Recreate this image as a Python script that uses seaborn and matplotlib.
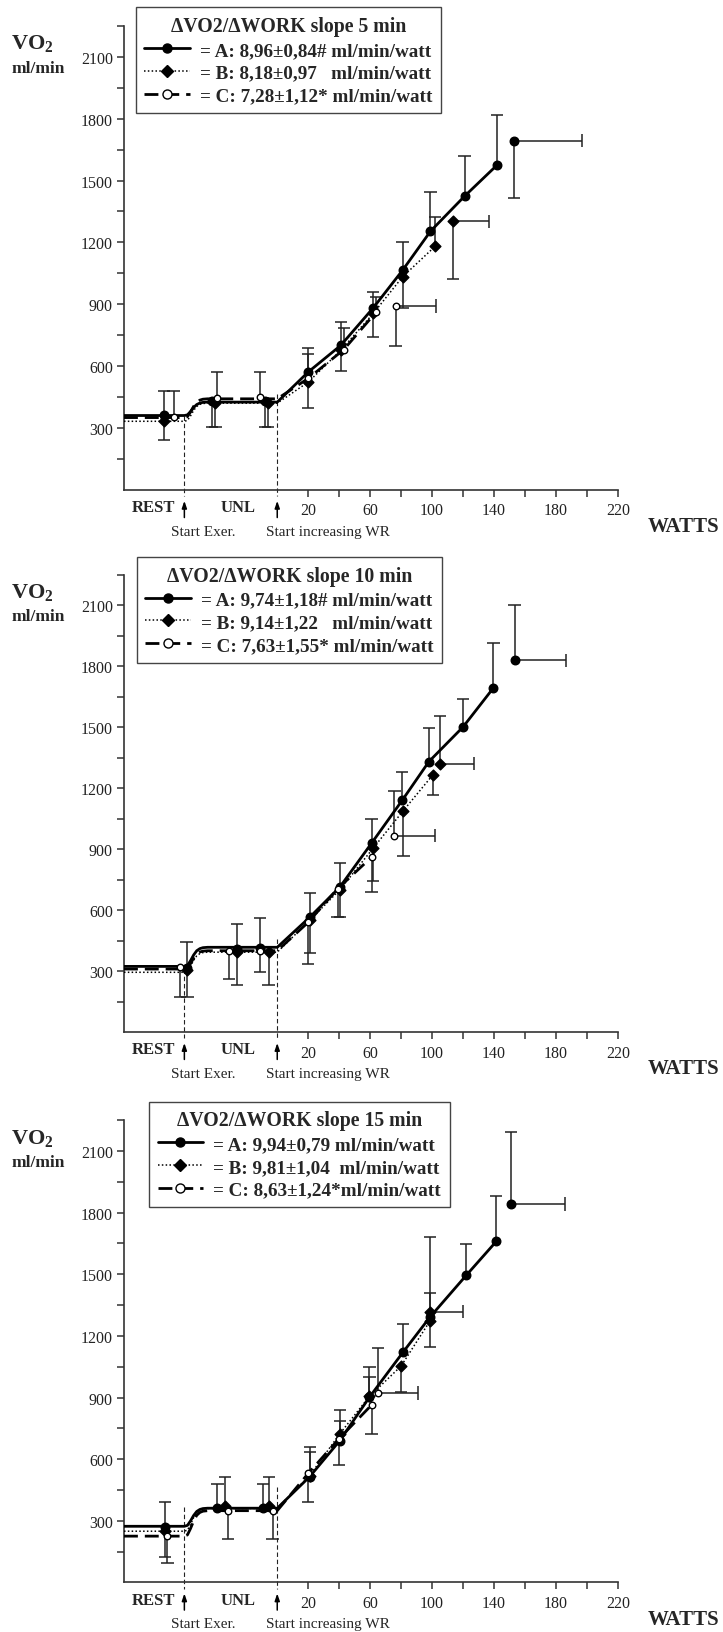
import numpy as np
import matplotlib
matplotlib.use("Agg")
import matplotlib.pyplot as plt
from matplotlib.lines import Line2D
import seaborn as sns

# rest -> unloaded transition shape (fraction of the jump reached at each watt position)
step_w = [-60, -58, -56, -54, -52, -50, -48, -45]
step_frac = [0.0, 0.05, 0.3, 0.6, 0.82, 0.93, 0.98, 1.0]

titles = ["ΔVO2/ΔWORK slope 5 min", "ΔVO2/ΔWORK slope 10 min", "ΔVO2/ΔWORK slope 15 min"]
labels5 = ["= A: 8,96±0,84# ml/min/watt", "= B: 8,18±0,97   ml/min/watt", "= C: 7,28±1,12* ml/min/watt"]
labels10 = ["= A: 9,74±1,18# ml/min/watt", "= B: 9,14±1,22   ml/min/watt", "= C: 7,63±1,55* ml/min/watt"]
labels15 = ["= A: 9,94±0,79 ml/min/watt", "= B: 9,81±1,04  ml/min/watt", "= C: 8,63±1,24*ml/min/watt"]

# err: one-sided SD bar (+ up, - down); level: [rest, unloaded]; peak: [W, VO2, W err, VO2 err]
# ---- 5 min
a5_w = [-73, -42, -8, 20, 41, 62, 81, 99, 121, 142]
a5_vo2 = [363, 428, 428, 571, 700, 882, 1065, 1254, 1424, 1575]
a5_err = [118, -125, -125, 116, 114, 78, 138, 188, 197, 243]
a5_level = [360, 425]
a5_peak = [153, 1693, 44, -280]

b5_w = [-73, -40, -6, 20, 41, 62, 81, 102]
b5_vo2 = [335, 420, 420, 522, 676, 855, 1033, 1181]
b5_err = [-93, -117, -117, -126, -102, -114, -150, 140]
b5_level = [332, 420]
b5_peak = [113.5, 1303, 23, -279]

c5_w = [-67, -39, -11, 20, 43, 64]
c5_vo2 = [352, 447, 449, 540, 680, 863]
c5_err = [129, 124, 122, 120, 105, 72]
c5_level = [350, 441]
c5_peak = [76.5, 891, 26, -196]

# ---- 10 min
a10_w = [-58.5, -26, -11, 21, 40.4, 61, 80.7, 98, 120, 139.6]
a10_vo2 = [314, 409, 412, 565, 713, 930, 1140, 1331, 1501, 1693]
a10_err = [128, 123, 151, 120, 120, 116, 142, 164, 139, 222]
a10_level = [323, 417]
a10_peak = [153.3, 1830, 33.5, 271]

b10_w = [-58, -26, -5.6, 21, 40.4, 62, 81.5, 100.6]
b10_vo2 = [305, 395, 396, 550, 700, 905, 1090, 1266]
b10_err = [-131, -162, -163, -159, -135, -160, -222, -102]
b10_level = [294, 393]
b10_peak = [105, 1320, 22, 233]

c10_w = [-63, -31, -11, 20, 39, 61]
c10_vo2 = [318, 400, 400, 540, 705, 861]
c10_err = [-144, -139, -106, -203, -140, -173]
c10_level = [310, 400]
c10_peak = [75.7, 967, 26, 221]

# ---- 15 min
a15_w = [-72.5, -38.6, -9.3, 21, 40.4, 59.5, 81.3, 98.6, 122, 141.5]
a15_vo2 = [268, 361, 361, 515, 690, 901, 1121, 1291, 1494, 1660]
a15_err = [122, 118, 118, 143, 95, 147, 138, 390, 155, 221]
a15_level = [273, 361]
a15_peak = [151, 1842, 35, 351]

b15_w = [-72.5, -33.6, -5.2, 21, 40.4, 59.5, 80, 98.6]
b15_vo2 = [252, 370, 370, 520, 723, 905, 1053, 1272]
b15_err = [-130, 142, 142, 114, 117, 94, -124, -127]
b15_level = [249, 360]
b15_peak = [98.6, 1318, 21.6, 92]

c15_w = [-71, -32, -3, 20, 40, 61]
c15_vo2 = [225, 349, 349, 530, 700, 864]
c15_err = [-132, -138, -138, -137, -128, -141]
c15_level = [225, 349]
c15_peak = [65, 922, 26, 218]

# tops of the dashed markers at "Start Exer." (-60 W) and "Start increasing WR" (0 W)
vline_tops = [[360, 465], [312, 458], [367, 465]]

x_ticks = [20, 40, 60, 80, 100, 120, 140, 160, 180, 200, 220]
x_ticklabels = ["20", "", "60", "", "100", "", "140", "", "180", "", "220"]
y_ticks = [150, 300, 450, 600, 750, 900, 1050, 1200, 1350, 1500, 1650, 1800, 1950, 2100, 2250]
y_ticklabels = ["", "300", "", "600", "", "900", "", "1200", "", "1500", "", "1800", "", "2100", ""]

panels = [
    dict(title=titles[0], labels=labels5, groups=[
        (a5_w, a5_vo2, a5_err, a5_level, a5_peak),
        (b5_w, b5_vo2, b5_err, b5_level, b5_peak),
        (c5_w, c5_vo2, c5_err, c5_level, c5_peak)]),
    dict(title=titles[1], labels=labels10, groups=[
        (a10_w, a10_vo2, a10_err, a10_level, a10_peak),
        (b10_w, b10_vo2, b10_err, b10_level, b10_peak),
        (c10_w, c10_vo2, c10_err, c10_level, c10_peak)]),
    dict(title=titles[2], labels=labels15, groups=[
        (a15_w, a15_vo2, a15_err, a15_level, a15_peak),
        (b15_w, b15_vo2, b15_err, b15_level, b15_peak),
        (c15_w, c15_vo2, c15_err, c15_level, c15_peak)]),
]

styles = [
    dict(ls="-", lw=2.0, marker="o", s=38, face="black"),
    dict(ls=(0, (1, 1.5)), lw=1.1, marker="D", s=30, face="black"),
    dict(ls=(0, (5, 2.5)), lw=2.0, marker="o", s=22, face="white"),
]

sns.set_theme(style="ticks")
plt.rcParams["font.family"] = ["Liberation Serif", "DejaVu Serif"]
plt.rcParams["mathtext.fontset"] = "custom"
plt.rcParams["mathtext.bf"] = "Liberation Serif:bold"
plt.rcParams["mathtext.rm"] = "Liberation Serif"

fig = plt.figure(figsize=(7.23, 16.33), dpi=100)
rects = [[0.1715, 0.6995, 0.683, 0.284],
         [0.1715, 0.3674, 0.683, 0.280],
         [0.1715, 0.0304, 0.683, 0.283]]
leg_anchor = [(0.024, 1.04), (0.026, 1.039), (0.051, 1.04)]

ink = "#222222"
cap_w = 4.0      # half cap width in watts
cap_v = 32.0     # half cap height in ml/min

for k, panel in enumerate(panels):
    ax = fig.add_axes(rects[k])
    for g, (w, vo2, err, level, peak) in enumerate(panel["groups"]):
        st = styles[g]
        w = np.array(w, float)
        vo2 = np.array(vo2, float)
        err = np.array(err, float)
        rest, unl = level

        # SD bars, one-sided
        ends = vo2 + err
        ax.vlines(w, vo2, ends, color=ink, lw=1.1, zorder=2)
        ax.hlines(ends, w - cap_w, w + cap_w, color=ink, lw=1.1, zorder=2)
        pw, pv, pxe, pye = peak
        ax.vlines(pw, pv, pv + pye, color=ink, lw=1.1, zorder=2)
        ax.hlines(pv + pye, pw - cap_w, pw + cap_w, color=ink, lw=1.1, zorder=2)
        ax.hlines(pv, pw, pw + pxe, color=ink, lw=1.1, zorder=2)
        ax.vlines(pw + pxe, pv - cap_v, pv + cap_v, color=ink, lw=1.1, zorder=2)

        # mean response line
        ramp = w > 0
        lx = [-99] + step_w + [0] + list(w[ramp])
        ly = [rest] + [rest + f * (unl - rest) for f in step_frac] + [unl] + list(vo2[ramp])
        sns.lineplot(x=lx, y=ly, ax=ax, color="black", lw=st["lw"], linestyle=st["ls"],
                     sort=False, estimator=None, zorder=3)

        sns.scatterplot(x=np.append(w, pw), y=np.append(vo2, pv), ax=ax, marker=st["marker"],
                        s=st["s"], color=st["face"], edgecolor="black", linewidth=1.0, zorder=4)

    # dashed phase markers
    for xv, top in zip([-60, 0], vline_tops[k]):
        ax.plot([xv, xv], [top, -30], color=ink, lw=0.8, ls=(0, (4, 2.5)), clip_on=False, zorder=1)
        ax.annotate("", xy=(xv, -0.024), xytext=(xv, -0.060),
                    xycoords=("data", "axes fraction"), textcoords=("data", "axes fraction"),
                    arrowprops=dict(arrowstyle="-|>,head_length=0.35,head_width=0.12",
                                    color="black", lw=1.1, shrinkA=0, shrinkB=0))

    ax.set_xlim(-99, 220)
    ax.set_ylim(0, 2250)
    ax.set_xticks(x_ticks)
    ax.set_xticklabels(x_ticklabels)
    ax.set_yticks(y_ticks)
    ax.set_yticklabels(y_ticklabels)
    ax.tick_params(direction="out", length=5, width=1.1, color="#333333", labelsize=11.5,
                   pad=3, labelcolor="#222222")
    ax.tick_params(axis="x", pad=4)
    for side in ["top", "right"]:
        ax.spines[side].set_visible(False)
    for side in ["left", "bottom"]:
        ax.spines[side].set_linewidth(1.2)
        ax.spines[side].set_color("#333333")
    ax.set_xlabel("")
    ax.set_ylabel("")

    tr = ax.get_xaxis_transform()
    ax.text(-80, -0.038, "REST", transform=tr, ha="center", va="center", fontsize=12,
            fontweight="bold")
    ax.text(-25, -0.038, "UNL", transform=tr, ha="center", va="center", fontsize=12,
            fontweight="bold")
    ax.text(-48, -0.09, "Start Exer.", transform=tr, ha="center", va="center", fontsize=11)
    ax.text(33, -0.09, "Start increasing WR", transform=tr, ha="center", va="center", fontsize=11)
    ax.text(239, -0.079, "WATTS", transform=tr, ha="left", va="center", fontsize=15,
            fontweight="bold", clip_on=False)
    ax.text(-0.228, 0.962, r"VO$_\mathbf{2}$", transform=ax.transAxes, ha="left", va="center",
            fontsize=16, fontweight="bold")
    ax.text(-0.228, 0.909, "ml/min", transform=ax.transAxes, ha="left", va="center",
            fontsize=12.5, fontweight="bold")

    handles = []
    for st in styles:
        handles.append(Line2D([], [], color="black", lw=st["lw"], linestyle=st["ls"],
                              marker=st["marker"], markersize=6 if st["marker"] == "D" else 6.5,
                              markerfacecolor=st["face"], markeredgecolor="black"))
    leg = ax.legend(handles, panel["labels"], title=panel["title"], loc="upper left",
                    bbox_to_anchor=leg_anchor[k], borderaxespad=0,
                    prop=dict(weight="bold", size=13.8), title_fontproperties=dict(weight="bold", size=14.2),
                    frameon=True, fancybox=False, edgecolor="#444444", framealpha=1,
                    handlelength=2.35, handletextpad=0.55, labelspacing=0.28, borderpad=0.45)
    leg.get_frame().set_linewidth(1.0)
    leg.set_zorder(10)

fig.savefig("out.png", dpi=100)
